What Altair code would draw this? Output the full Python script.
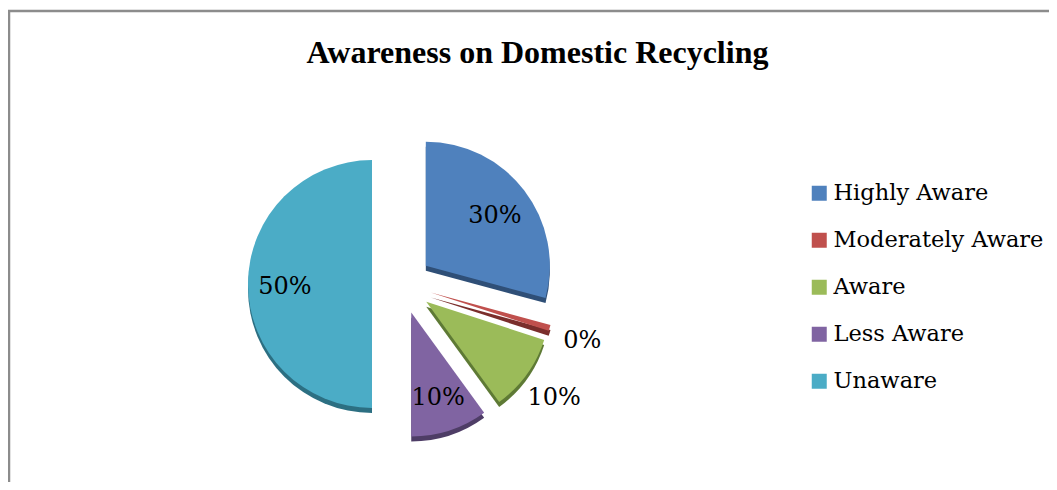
import altair as alt
import pandas as pd

categories = ["Highly Aware", "Moderately Aware", "Aware", "Less Aware", "Unaware"]
values = [29.2, 0.8, 10, 10, 50]
labels = ["30%", "0%", "10%", "10%", "50%"]
colors = ["#4F81BD", "#C0504D", "#9BBB59", "#8064A2", "#4BACC6"]
dark_colors = ["#2F4F77", "#7A2E2C", "#5E7A35", "#4E3D66", "#2C6F82"]

df = pd.DataFrame({"category": categories, "value": values, "label": labels,
                   "order": list(range(len(categories)))})

CX, CY, R, EXPLODE = 394, 276, 124, 30
W, H = 1041, 474
FONT = "DejaVu Serif"
TFONT = "Liberation Serif"

base = (
    alt.Chart(df)
    .transform_window(cum="sum(value)", sort=[alt.SortField("order")], frame=[None, 0])
    .transform_joinaggregate(total="sum(value)")
    .transform_calculate(a0="(datum.cum - datum.value) / datum.total * 2 * PI")
    .transform_calculate(a1="datum.cum / datum.total * 2 * PI")
    .transform_calculate(mid="(datum.a0 + datum.a1) / 2")
    .transform_calculate(px=f"{CX} + {EXPLODE} * sin(datum.mid)")
    .transform_calculate(py=f"{CY} - {EXPLODE} * cos(datum.mid)")
    .transform_calculate(sy="datum.py + 5")
    .transform_calculate(lr="(datum.category == 'Aware' || datum.category == 'Moderately Aware') ? 158 : 87")
    .transform_calculate(lx="datum.px + datum.lr * sin(datum.mid)")
    .transform_calculate(ly="datum.py - datum.lr * cos(datum.mid) + 3")
)

shadow = base.mark_arc(radius=R).encode(
    x=alt.X("px:Q", scale=None, axis=None),
    y=alt.Y("sy:Q", scale=None, axis=None),
    theta=alt.Theta("a0:Q", scale=None),
    theta2="a1:Q",
    color=alt.Color("category:N", scale=alt.Scale(domain=categories, range=dark_colors), legend=None),
)

slices = base.mark_arc(radius=R).encode(
    x=alt.X("px:Q", scale=None, axis=None),
    y=alt.Y("py:Q", scale=None, axis=None),
    theta=alt.Theta("a0:Q", scale=None),
    theta2="a1:Q",
    color=alt.Color(
        "category:N",
        scale=alt.Scale(domain=categories, range=colors),
        legend=alt.Legend(
            title=None, orient="none", legendX=800, legendY=174,
            symbolType="square", symbolSize=225, symbolStrokeWidth=0,
            labelFont=FONT, labelFontSize=22.5, labelColor="black",
            rowPadding=24, labelOffset=3, labelLimit=400,
        ),
    ),
)

text = base.mark_text(font=FONT, fontSize=24, color="black").encode(
    x=alt.X("lx:Q", scale=None, axis=None),
    y=alt.Y("ly:Q", scale=None, axis=None),
    text="label:N",
)

frame_df = pd.DataFrame({"k": [0]})
left_line = alt.Chart(frame_df).mark_rule(color="#8c8c8c", strokeWidth=2.5).encode(
    x=alt.value(1), y=alt.value(2), y2=alt.value(H)
)
top_line = alt.Chart(frame_df).mark_rule(color="#8c8c8c", strokeWidth=2.5).encode(
    x=alt.value(0), x2=alt.value(W), y=alt.value(3)
)

chart = (
    alt.layer(shadow, slices, text, left_line, top_line)
    .resolve_scale(color="independent")
    .properties(
        width=W, height=H, padding=0, autosize=alt.AutoSizeParams(type="none"),
        title=alt.TitleParams(
            "Awareness on Domestic Recycling", font=TFONT, fontSize=32,
            fontWeight="bold", color="black", anchor="middle", dx=9, dy=66,
        ),
    )
    .configure_view(stroke=None)
)

chart.save("out.html", embed_options={"renderer": "svg", "actions": False})
